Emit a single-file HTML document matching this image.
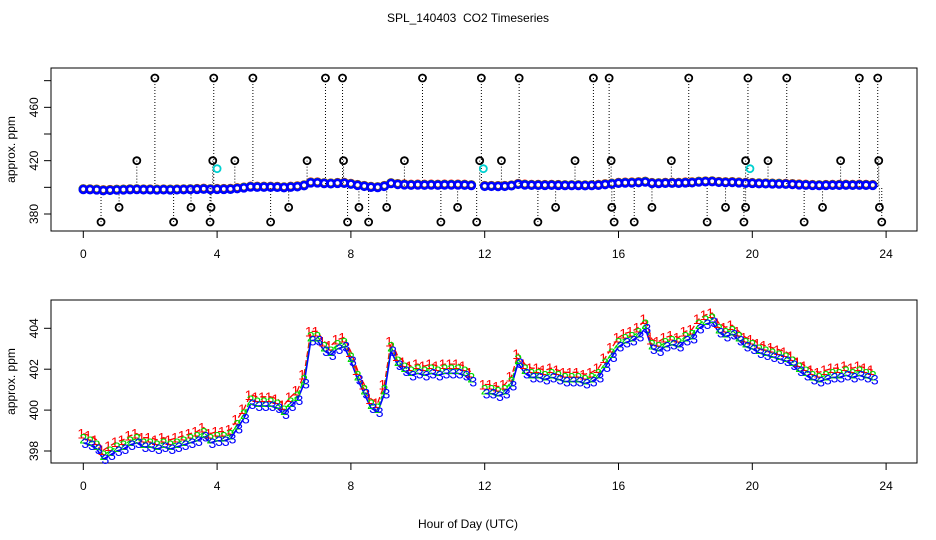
<!DOCTYPE html>
<html><head><meta charset="utf-8"><style>
html,body{margin:0;padding:0;background:#fff;}
svg{display:block;font-family:"Liberation Sans",sans-serif;}
</style></head><body>
<svg id="chart" width="936" height="540" viewBox="0 0 936 540">
<text x="468" y="22" font-size="12" text-anchor="middle" style="white-space:pre">SPL_140403  CO2 Timeseries</text>
<text x="468" y="528" font-size="12" text-anchor="middle">Hour of Day (UTC)</text>
<g id="topPanel"></g>
<g id="botPanel"></g>
</svg>
<script>
const hours = [0,0.2,0.4,0.6,0.8,1,1.2,1.4,1.6,1.8,2,2.2,2.4,2.6,2.8,3,3.2,3.4,3.6,3.8,4,4.2,4.4,4.6,4.8,5,5.2,5.4,5.6,5.8,6,6.2,6.4,6.6,6.8,7,7.2,7.4,7.6,7.8,8,8.2,8.4,8.6,8.8,9,9.2,9.4,9.6,9.8,10,10.2,10.4,10.6,10.8,11,11.2,11.4,11.6,11.8,12,12.2,12.4,12.6,12.8,13,13.2,13.4,13.6,13.8,14,14.2,14.4,14.6,14.8,15,15.2,15.4,15.6,15.8,16,16.2,16.4,16.6,16.8,17,17.2,17.4,17.6,17.8,18,18.2,18.4,18.6,18.8,19,19.2,19.4,19.6,19.8,20,20.2,20.4,20.6,20.8,21,21.2,21.4,21.6,21.8,22,22.2,22.4,22.6,22.8,23,23.2,23.4,23.6];
const co2 = [398.6,398.5,398.3,397.8,398.0,398.2,398.3,398.5,398.6,398.4,398.4,398.3,398.4,398.3,398.4,398.5,398.6,398.7,398.9,398.6,398.7,398.7,398.8,399.3,399.8,400.5,400.4,400.4,400.4,400.3,400.0,400.4,400.7,401.5,403.6,403.6,403.1,402.9,403.2,403.3,402.6,401.7,401.0,400.3,400.1,401.0,403.1,402.4,402.1,401.9,402.0,401.9,402.0,401.9,402.0,402.0,402.0,401.9,401.6,null,401.0,401.0,400.9,401.0,401.4,402.5,402.0,401.8,401.8,401.7,401.8,401.7,401.6,401.6,401.6,401.5,401.6,401.8,402.3,402.8,403.3,403.5,403.6,403.8,404.2,403.2,403.1,403.3,403.4,403.3,403.6,403.7,404.2,404.4,404.5,404.0,403.8,403.9,403.6,403.3,403.2,403.0,402.9,402.8,402.7,402.6,402.4,402.1,401.9,401.7,401.6,401.7,401.8,401.8,401.9,401.8,401.9,401.8,401.7];
const seriesOffset = [0.25, 0.0, -0.2];
const seriesColors = ["#ff0000","#00dd00","#0000ff"];
const seriesSymbols = ["1","2","3"];
const outHighHours = [2.14,3.9,5.07,7.24,7.75,10.14,11.9,13.03,15.25,15.72,18.1,19.87,21.03,23.2,23.75];
const outHighVals = [482,482,482,482,482,482,482,482,482,482,482,482,482,482,482];
const outMidHours = [1.6,3.87,4.53,6.69,7.78,9.6,11.85,12.5,14.7,15.78,17.58,19.8,20.47,22.64,23.78];
const outMidVals = [420,420,420,420,420,420,420,420,420,420,420,420,420,420,420];
const outLowHours = [1.07,3.22,3.82,6.14,8.24,9.07,11.19,14.12,15.8,17.0,19.2,19.8,22.1,23.8];
const outLowVals = [385,385,385,385,385,385,385,385,385,385,385,385,385,385];
const outMinHours = [0.53,2.7,3.79,5.6,7.9,8.53,10.69,11.76,13.59,15.87,16.47,18.65,19.75,21.55,23.87];
const outMinVals = [374,374,374,374,374,374,374,374,374,374,374,374,374,374,374];
const cyanHours = [4.0,11.96,19.93];
const cyanVals = [414,414,414];
const xTicks = [0,4,8,12,16,20,24];
const topYTicks = [380,400,420,440,460,480];
const topYLabels = [380,420,460];
const botYTicks = [398,400,402,404];

const NS="http://www.w3.org/2000/svg";
function mk(tag, attrs, parent){const e=document.createElementNS(NS,tag);for(const k in attrs)e.setAttribute(k,attrs[k]);parent.appendChild(e);return e;}
const X = h => 83.3 + h*33.45;
const Ytop = v => 214 - (v-380)*1.3333;
const Ybot = v => 451 - (v-398)*20.45;

function axes(g, y0, y1, yTicks, yLabels, Y, name){
  const box=mk('rect',{x:51,y:y0,width:866,height:y1-y0,fill:'none',stroke:'#000','stroke-width':1},g);
  
  
  xTicks.forEach(t=>{
    const l=mk('line',{x1:X(t),x2:X(t),y1:y1,y2:y1+7,stroke:'#000'},g);
    
    
    const tx=mk('text',{x:X(t),y:y1+27,'font-size':12,'text-anchor':'middle'},g);
    tx.textContent=t;
    
    
  });
  yTicks.forEach(t=>{
    const l=mk('line',{x1:44,x2:51,y1:Y(t),y2:Y(t),stroke:'#000'},g);
    
    
  });
  yLabels.forEach(t=>{
    const tx=mk('text',{x:0,y:0,'font-size':12,'text-anchor':'middle',transform:`translate(38,${Y(t)}) rotate(-90)`},g);
    tx.textContent=t;
    
    
  });
  const yt=mk('text',{x:0,y:0,'font-size':12,'text-anchor':'middle',transform:`translate(15,${(y0+y1)/2}) rotate(-90)`},g);
  yt.textContent='approx. ppm';
  
  
}

const topG=document.getElementById('topPanel');
const botG=document.getElementById('botPanel');
axes(topG,68,231,topYTicks,topYLabels,Ytop,'top');
axes(botG,300,463,botYTicks,botYTicks,Ybot,'bottom');

function outliers(hs, vs, color){
  hs.forEach((h,i)=>{
    const st=mk('line',{x1:X(h),x2:X(h),y1:Ytop(vs[i]),y2:Ytop(400),stroke:'#000','stroke-dasharray':'1,2','stroke-width':1},topG);
    
    
    const c=mk('circle',{cx:X(h),cy:Ytop(vs[i]),r:3.5,fill:'none',stroke:color,'stroke-width':1.8},topG);
    
    
  });
}
outliers(outHighHours,outHighVals,'#000');
outliers(outMidHours,outMidVals,'#000');
outliers(outLowHours,outLowVals,'#000');
outliers(outMinHours,outMinVals,'#000');
cyanHours.forEach((h,i)=>{
  const c=mk('circle',{cx:X(h),cy:Ytop(cyanVals[i]),r:3.5,fill:'none',stroke:'#00d0d0','stroke-width':1.8},topG);
  
  
});

[0,1,2].forEach(s=>{
  hours.forEach((h,i)=>{
    if(co2[i]===null) return;
    const c=mk('circle',{cx:X(h),cy:Ytop(co2[i]+seriesOffset[s]),r:3.5,fill:'none',stroke:seriesColors[s],'stroke-width':2.6},topG);
    
    
  });
});

[0,1,2].forEach(s=>{
  let d='', pen=false;
  hours.forEach((h,i)=>{
    if(co2[i]===null){pen=false;return;}
    d += (pen?'L':'M')+X(h).toFixed(1)+','+Ybot(co2[i]+seriesOffset[s]).toFixed(1);
    pen=true;
  });
  const p=mk('path',{d:d,fill:'none',stroke:seriesColors[s],'stroke-width':s==2?1.6:1.3,'stroke-dasharray':s==0?'6,3':(s==1?'4,2':'none')},botG);
  
  
});
[0,1,2].forEach(s=>{
  hours.forEach((h,i)=>{
    if(co2[i]===null) return;
    const t=mk('text',{x:X(h)+(s-1)*2,y:Ybot(co2[i]+seriesOffset[s])+5,'font-size':14,fill:seriesColors[s],'text-anchor':'middle'},botG);
    t.textContent=seriesSymbols[s];
    
    
  });
});
</script>
</body></html>
